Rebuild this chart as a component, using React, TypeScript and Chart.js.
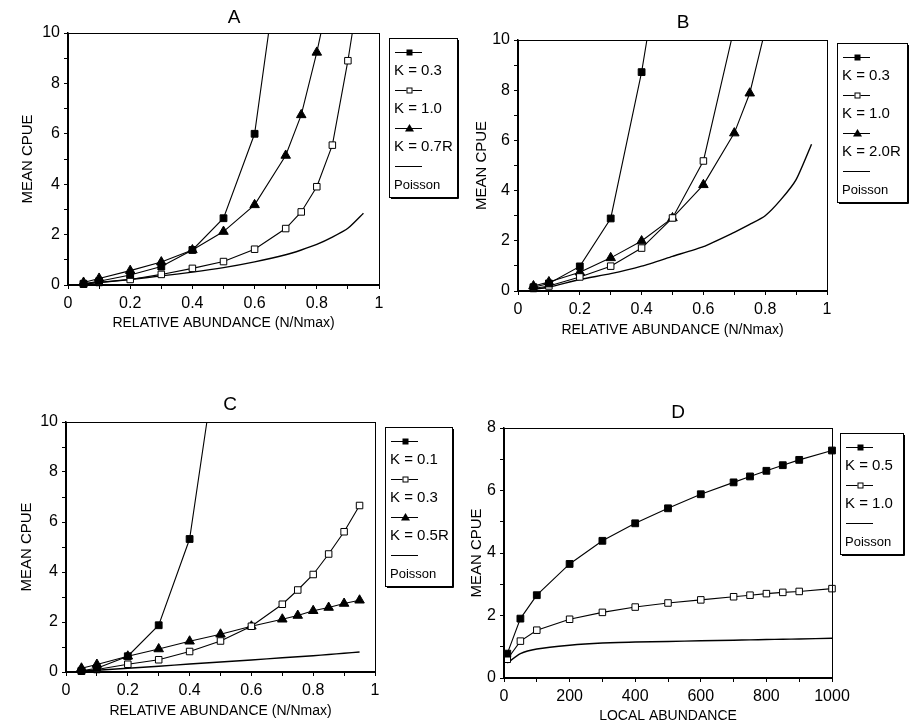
import React, { useEffect, useRef } from 'react';
import { Chart, registerables } from 'chart.js';

Chart.register(...registerables);

// ---------- data ----------
const relX = [0.05, 0.1, 0.2, 0.3, 0.4, 0.5, 0.6, 0.7, 0.75, 0.8, 0.85, 0.9, 0.95];

const aK03 = [0.05, 0.15, 0.4, 0.73, 1.39, 2.65, 6.0, 14.9, null, null, null, null, null];
const aK10 = [0.03, 0.1, 0.22, 0.42, 0.66, 0.93, 1.42, 2.24, 2.9, 3.9, 5.55, 8.9, 12.8];
const aK07R = [0.1, 0.26, 0.57, 0.91, 1.39, 2.12, 3.18, 5.14, 6.75, 9.23, 12.1, null, null];
const aPoisson = [0.05, 0.1, 0.22, 0.36, 0.51, 0.69, 0.92, 1.2, 1.39, 1.61, 1.9, 2.25, 2.85];

const bK03 = [0.15, 0.3, 0.98, 2.89, 8.72, 16.2, null, null, null, null, null, null, null];
const bK10 = [0.1, 0.2, 0.56, 0.99, 1.71, 2.91, 5.18, 10.5, null, null, null, null, null];
const bK20R = [0.2, 0.36, 0.75, 1.32, 1.99, 2.91, 4.23, 6.29, 7.88, 10.4, null, null, null];
const bPoisson = [0.07, 0.15, 0.46, 0.69, 0.99, 1.38, 1.77, 2.34, 2.65, 3.0, 3.63, 4.44, 5.85];

const cK01 = [0.05, 0.15, 0.63, 1.87, 5.32, 13.7, null, null, null, null, null, null, null];
const cK03 = [0.03, 0.1, 0.31, 0.49, 0.82, 1.24, 1.83, 2.71, 3.28, 3.9, 4.72, 5.61, 6.66];
const cK05R = [0.15, 0.3, 0.63, 0.92, 1.23, 1.51, 1.83, 2.11, 2.26, 2.45, 2.58, 2.74, 2.87];
const cPoisson = [0.03, 0.07, 0.15, 0.23, 0.32, 0.4, 0.48, 0.57, 0.61, 0.65, 0.7, 0.75, 0.8];

const localX = [10, 50, 100, 200, 300, 400, 500, 600, 700, 750, 800, 850, 900, 1000];
const dK05 = [0.78, 1.9, 2.65, 3.65, 4.39, 4.95, 5.43, 5.88, 6.26, 6.45, 6.63, 6.81, 6.98, 7.28];
const dK10 = [0.6, 1.18, 1.53, 1.88, 2.1, 2.27, 2.4, 2.5, 2.6, 2.65, 2.7, 2.74, 2.77, 2.86];
const dPoisson = [0.48, 0.78, 0.93, 1.05, 1.12, 1.15, 1.17, 1.19, 1.21, 1.22, 1.23, 1.24, 1.25, 1.27];

const relTitle = 'RELATIVE ABUNDANCE (N/Nmax)';
const localTitle = 'LOCAL ABUNDANCE';
const yTitle = 'MEAN CPUE';

// ---------- styling ----------
const FONT = '"Liberation Sans", Arial, Helvetica, sans-serif';

type Kind = 'filledSquare' | 'openSquare' | 'triangle' | 'line';

function pts(xs: number[], ys: (number | null)[]) {
  const out: { x: number; y: number }[] = [];
  xs.forEach((x, i) => {
    const y = ys[i];
    if (y !== null && y !== undefined) out.push({ x, y });
  });
  return out;
}

function dataset(label: string, xs: number[], ys: (number | null)[], kind: Kind) {
  const base: any = {
    label,
    data: pts(xs, ys),
    borderColor: '#000',
    borderWidth: 1.1,
    tension: 0,
    clip: { left: 10, top: 0, right: 10, bottom: 10 },
    kind,
  };
  if (kind === 'line') {
    return { ...base, pointRadius: 0, borderWidth: 1.4, tension: 0.2 };
  }
  if (kind === 'filledSquare') {
    return { ...base, pointStyle: 'rect', pointRadius: 4.8, pointBackgroundColor: '#000', pointBorderColor: '#000', pointBorderWidth: 1 };
  }
  if (kind === 'openSquare') {
    return { ...base, pointStyle: 'rect', pointRadius: 4.6, pointBackgroundColor: '#fff', pointBorderColor: '#000', pointBorderWidth: 1 };
  }
  return { ...base, pointStyle: 'triangle', pointRadius: 5.5, pointBackgroundColor: '#000', pointBorderColor: '#000', pointBorderWidth: 1 };
}

const decorPlugin = {
  id: 'decor',
  afterDraw(chart: any, _args: any, opts: any) {
    const { ctx, chartArea: ca } = chart;
    ctx.save();
    ctx.strokeStyle = '#000';
    ctx.fillStyle = '#000';
    ctx.lineWidth = 1;
    // frame
    ctx.strokeRect(Math.round(ca.left) + 0.5, Math.round(ca.top) + 0.5, Math.round(ca.right - ca.left), Math.round(ca.bottom - ca.top));
    // panel letter
    ctx.font = `19px ${FONT}`;
    ctx.textAlign = 'center';
    ctx.textBaseline = 'middle';
    ctx.fillText(opts.title, opts.titleX, opts.titleY);
    // legend box
    const ds = chart.data.datasets;
    const bx = opts.legendX;
    const by = opts.legendY;
    const w = opts.legendW;
    const h = ds.length * 38 + 7;
    ctx.lineWidth = 1;
    ctx.strokeRect(bx + 0.5, by + 0.5, w, h);
    ctx.beginPath();
    ctx.moveTo(bx + w + 1.5, by + 2);
    ctx.lineTo(bx + w + 1.5, by + h + 1.5);
    ctx.lineTo(bx + 2, by + h + 1.5);
    ctx.stroke();
    ds.forEach((d: any, i: number) => {
      const sy = by + 14 + i * 38;
      const x0 = bx + 6;
      const x1 = bx + 33;
      const mx = (x0 + x1) / 2 + 1;
      ctx.lineWidth = 1;
      ctx.beginPath();
      ctx.moveTo(x0, sy + 0.5);
      ctx.lineTo(x1, sy + 0.5);
      ctx.stroke();
      if (d.kind === 'filledSquare') {
        ctx.fillRect(mx - 3, sy - 2.5, 6, 6);
      } else if (d.kind === 'openSquare') {
        ctx.fillStyle = '#fff';
        ctx.fillRect(mx - 3, sy - 2.5, 6, 6);
        ctx.fillStyle = '#000';
        ctx.strokeRect(mx - 2.5, sy - 2, 5, 5);
      } else if (d.kind === 'triangle') {
        ctx.beginPath();
        ctx.moveTo(mx, sy - 4);
        ctx.lineTo(mx + 4.5, sy + 3.5);
        ctx.lineTo(mx - 4.5, sy + 3.5);
        ctx.closePath();
        ctx.fill();
      }
      ctx.textAlign = 'left';
      ctx.textBaseline = 'middle';
      ctx.font = d.kind === 'line' ? `13px ${FONT}` : `15px ${FONT}`;
      ctx.fillText(d.label, bx + 5, sy + 19);
    });
    ctx.restore();
  },
};

interface PanelSpec {
  left: number; top: number; width: number; height: number;
  axisW: number; padTop: number; padRight: number; xAxisH: number;
  yTitlePad: number; xTitlePad: number;
  xMin: number; xMax: number; xStep: number; xFmt: (v: number) => string; xTitle: string;
  yMax: number;
  title: string; titleX: number; titleY: number;
  legendX: number; legendY: number; legendW: number;
  datasets: any[];
}

const panels: PanelSpec[] = [
  {
    left: 0, top: 0, width: 460, height: 360,
    axisW: 68, padTop: 33, padRight: 81, xAxisH: 75, yTitlePad: 19, xTitlePad: 28,
    xMin: 0, xMax: 1, xStep: 0.1, xFmt: (v) => String(Math.round(v * 10) / 10), xTitle: relTitle,
    yMax: 10, title: 'A', titleX: 234, titleY: 18,
    legendX: 389, legendY: 38, legendW: 68,
    datasets: [
      dataset('K = 0.3', relX, aK03, 'filledSquare'),
      dataset('K = 1.0', relX, aK10, 'openSquare'),
      dataset('K = 0.7R', relX, aK07R, 'triangle'),
      dataset('Poisson', relX, aPoisson, 'line'),
    ],
  },
  {
    left: 455, top: 0, width: 460, height: 360,
    axisW: 63, padTop: 40, padRight: 88, xAxisH: 69, yTitlePad: 18, xTitlePad: 21,
    xMin: 0, xMax: 1, xStep: 0.1, xFmt: (v) => String(Math.round(v * 10) / 10), xTitle: relTitle,
    yMax: 10, title: 'B', titleX: 228, titleY: 23,
    legendX: 382, legendY: 43, legendW: 70,
    datasets: [
      dataset('K = 0.3', relX, bK03, 'filledSquare'),
      dataset('K = 1.0', relX, bK10, 'openSquare'),
      dataset('K = 2.0R', relX, bK20R, 'triangle'),
      dataset('Poisson', relX, bPoisson, 'line'),
    ],
  },
  {
    left: 0, top: 360, width: 460, height: 366,
    axisW: 66, padTop: 62, padRight: 85, xAxisH: 54, yTitlePad: 18, xTitlePad: 6,
    xMin: 0, xMax: 1, xStep: 0.1, xFmt: (v) => String(Math.round(v * 10) / 10), xTitle: relTitle,
    yMax: 10, title: 'C', titleX: 230, titleY: 45,
    legendX: 385, legendY: 67, legendW: 67,
    datasets: [
      dataset('K = 0.1', relX, cK01, 'filledSquare'),
      dataset('K = 0.3', relX, cK03, 'openSquare'),
      dataset('K = 0.5R', relX, cK05R, 'triangle'),
      dataset('Poisson', relX, cPoisson, 'line'),
    ],
  },
  {
    left: 455, top: 360, width: 460, height: 366,
    axisW: 49, padTop: 68, padRight: 83, xAxisH: 48, yTitlePad: 13, xTitlePad: 1,
    xMin: 0, xMax: 1000, xStep: 100, xFmt: (v) => String(Math.round(v)), xTitle: localTitle,
    yMax: 8, title: 'D', titleX: 223, titleY: 53,
    legendX: 385, legendY: 73, legendW: 63,
    datasets: [
      dataset('K = 0.5', localX, dK05, 'filledSquare'),
      dataset('K = 1.0', localX, dK10, 'openSquare'),
      dataset('Poisson', localX, dPoisson, 'line'),
    ],
  },
];

function makeConfig(p: PanelSpec): any {
  const tickFont = { family: FONT, size: 16 };
  return {
    type: 'line',
    data: { datasets: p.datasets },
    plugins: [decorPlugin],
    options: {
      responsive: false,
      maintainAspectRatio: false,
      animation: false,
      events: [],
      layout: { padding: { top: p.padTop, right: p.padRight, left: 0, bottom: 0 } },
      plugins: {
        legend: { display: false },
        tooltip: { enabled: false },
        title: { display: false },
        decor: {
          title: p.title, titleX: p.titleX, titleY: p.titleY,
          legendX: p.legendX, legendY: p.legendY, legendW: p.legendW,
        },
      },
      scales: {
        x: {
          type: 'linear',
          min: p.xMin,
          max: p.xMax,
          afterFit: (s: any) => { s.height = p.xAxisH; },
          ticks: {
            stepSize: p.xStep,
            autoSkip: false,
            maxRotation: 0,
            color: '#000',
            font: tickFont,
            padding: 5,
            callback: (v: number, i: number) => (i % 2 === 0 ? p.xFmt(v) : ''),
          },
          grid: { drawOnChartArea: false, drawTicks: true, tickLength: 4, color: '#000' },
          border: { display: true, color: '#000', width: 1.5 },
          title: {
            display: true, text: p.xTitle, color: '#000',
            font: { family: FONT, size: 14 },
            padding: { top: 0, bottom: p.xTitlePad },
          },
        },
        y: {
          type: 'linear',
          min: 0,
          max: p.yMax,
          afterFit: (s: any) => { s.width = p.axisW; },
          ticks: {
            stepSize: 1,
            autoSkip: false,
            color: '#000',
            font: tickFont,
            padding: 4,
            callback: (v: number) => (Math.round(v) % 2 === 0 ? String(Math.round(v)) : ''),
          },
          grid: { drawOnChartArea: false, drawTicks: true, tickLength: 4, color: '#000' },
          border: { display: true, color: '#000', width: 1.5 },
          title: {
            display: true, text: yTitle, color: '#000',
            font: { family: FONT, size: 15 },
            padding: { top: p.yTitlePad, bottom: 0 },
          },
        },
      },
    },
  };
}

function Panel({ spec }: { spec: PanelSpec }) {
  const ref = useRef<HTMLCanvasElement | null>(null);
  useEffect(() => {
    if (!ref.current) return;
    const chart = new Chart(ref.current, makeConfig(spec));
    return () => chart.destroy();
  }, [spec]);
  return (
    <canvas
      ref={ref}
      width={spec.width}
      height={spec.height}
      style={{ position: 'absolute', left: spec.left, top: spec.top, width: spec.width, height: spec.height }}
    />
  );
}

export default function App() {
  return (
    <div style={{ position: 'absolute', left: 0, top: 0, width: 915, height: 726, background: '#fff', overflow: 'hidden' }}>
      {panels.map((p) => (
        <Panel key={p.title} spec={p} />
      ))}
    </div>
  );
}
